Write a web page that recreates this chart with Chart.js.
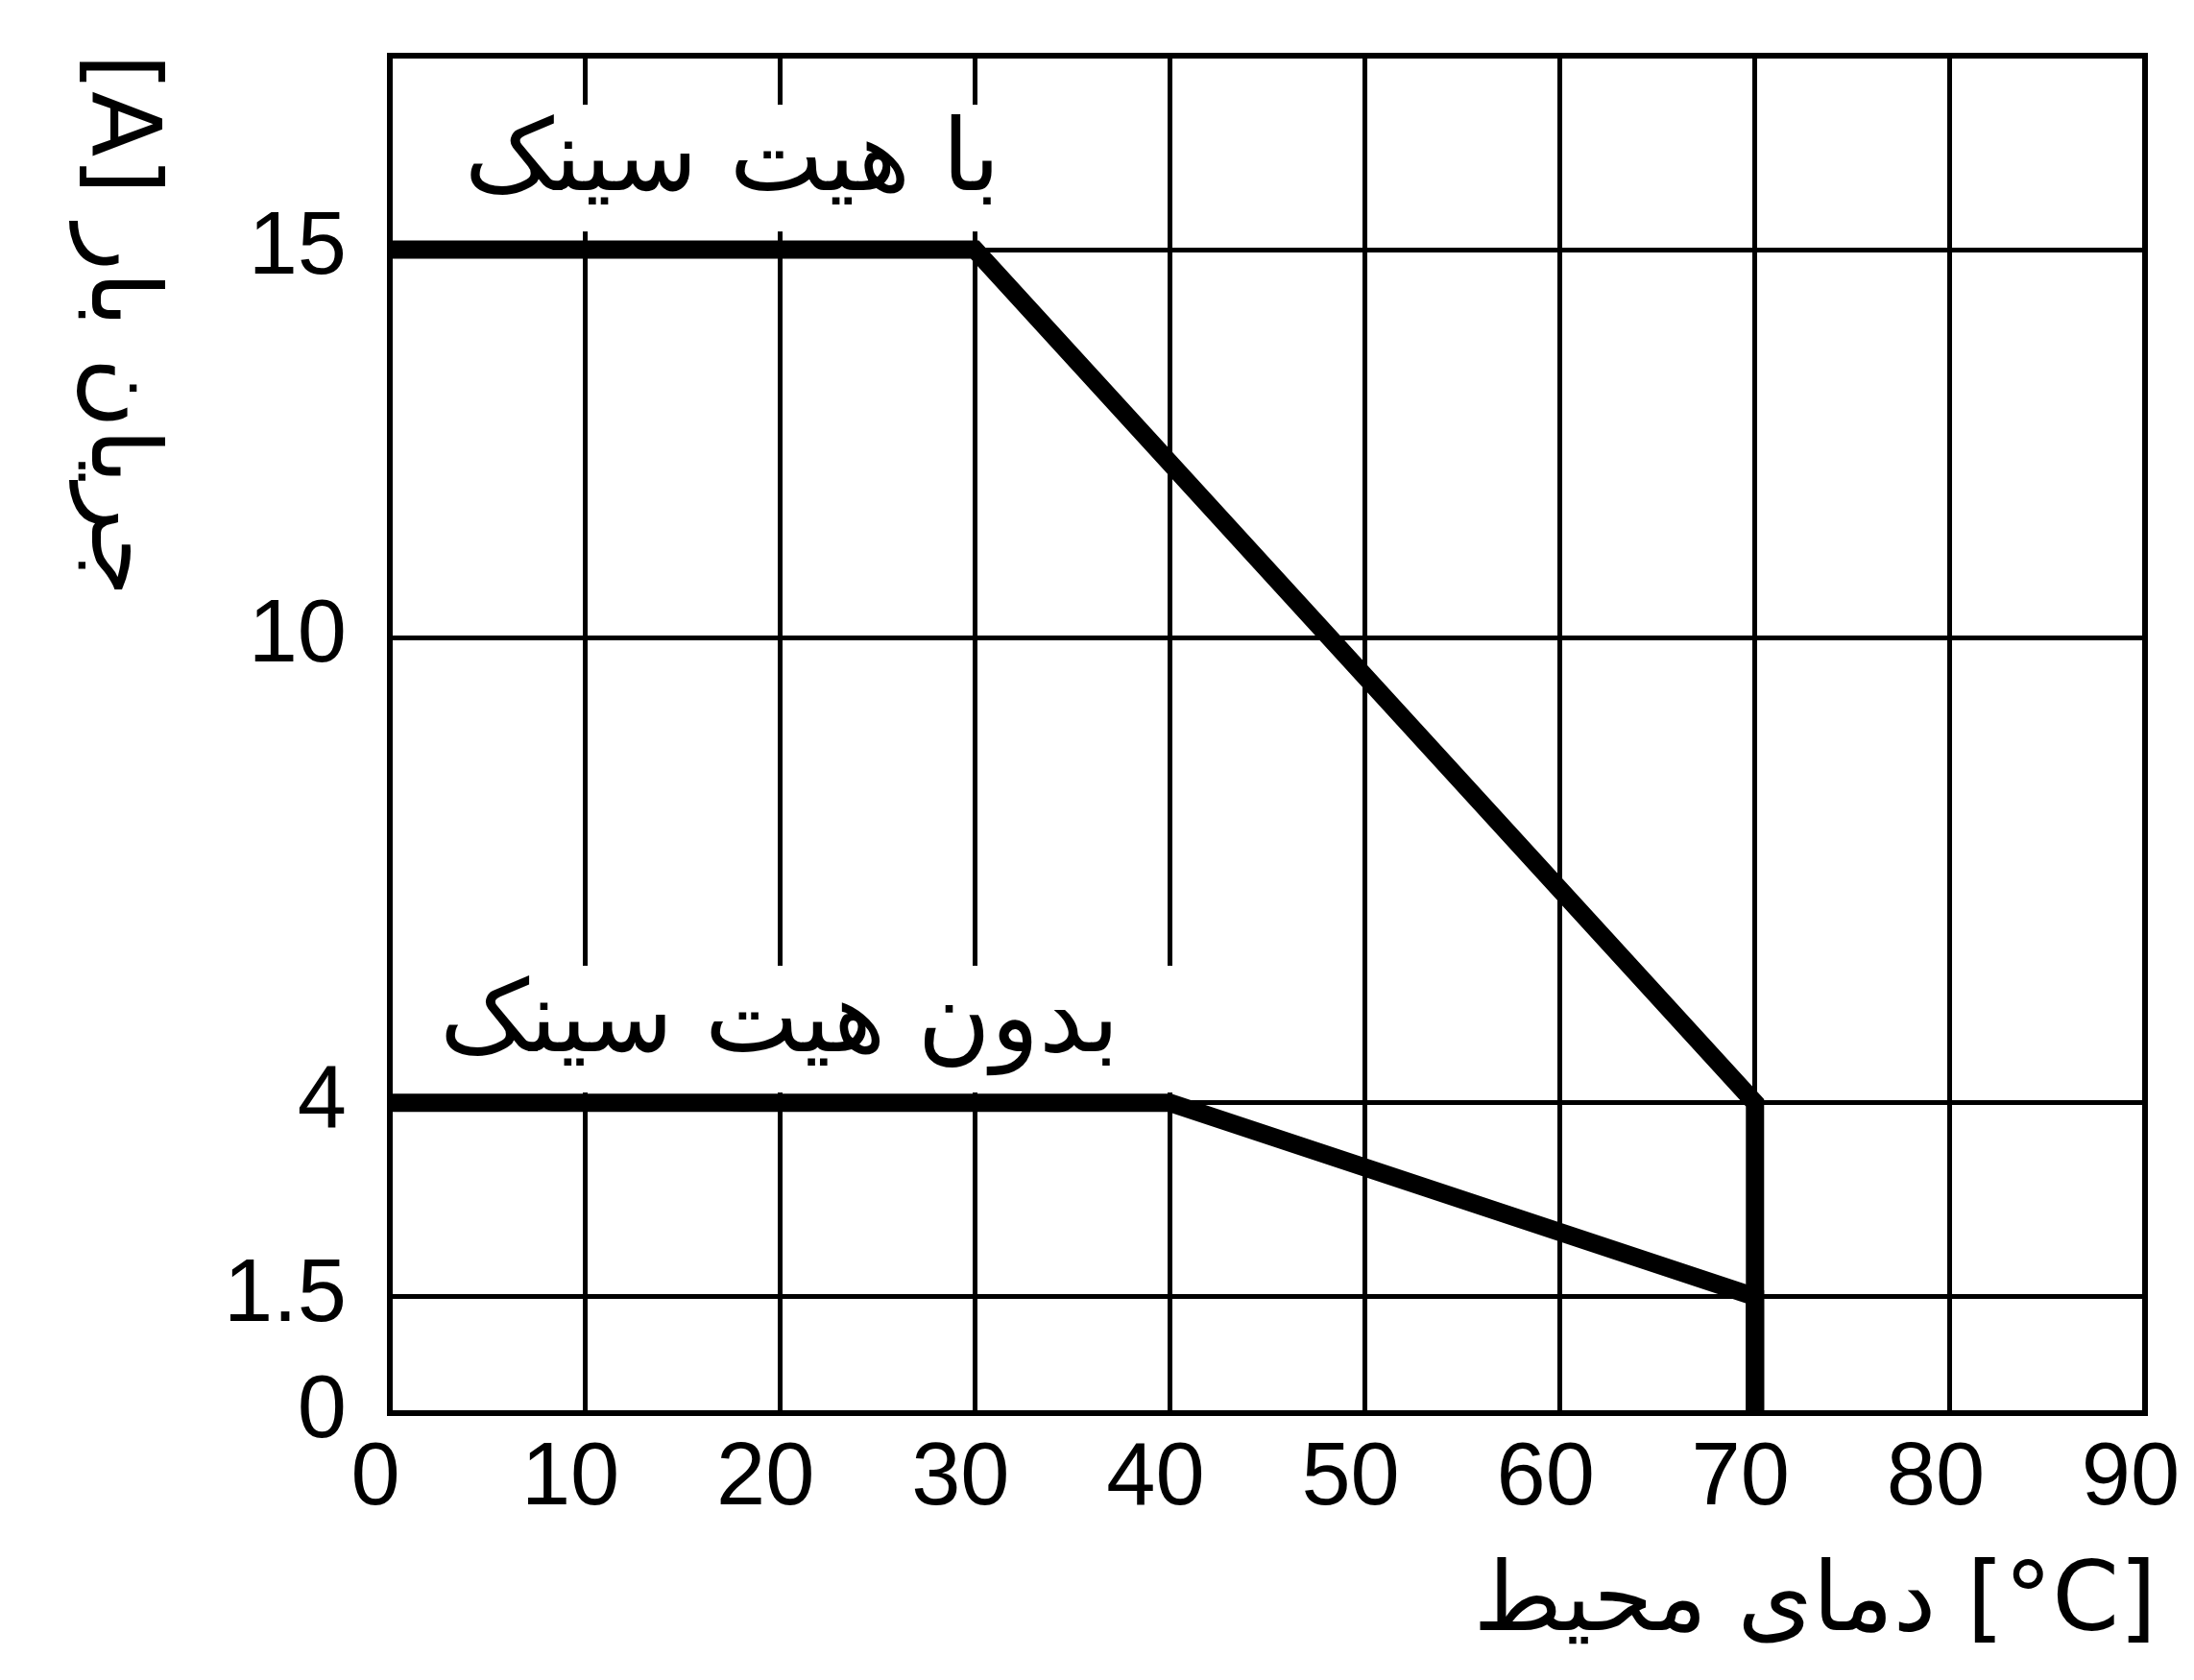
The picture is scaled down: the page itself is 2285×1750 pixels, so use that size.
<!DOCTYPE html>
<html>
  <head>
    <meta charset="utf-8">
    <title>Derating curve</title>
    <script src="https://cdn.jsdelivr.net/npm/chart.js@4.4.1/dist/chart.umd.min.js"></script>
    <style>
      html, body { margin: 0; padding: 0; background: #fff; }
    </style>
  </head>
  <body>
    <canvas id="canvas" width="2285" height="1750"></canvas>
    <script>
      // axis ticks
      const xTicks = [0, 10, 20, 30, 40, 50, 60, 70, 80, 90];
      const yTicks = [0, 1.5, 4, 10, 15];

      // curves: ambient temperature [°C] -> current [A]
      const withSinkTemp = [0, 30, 70, 70];
      const withSinkCurrent = [15, 15, 4, 0];
      const noSinkTemp = [0, 40, 70, 70];
      const noSinkCurrent = [4, 4, 1.5, 0];

      // texts
      const withSinkLabel = 'با هیت سینک';
      const noSinkLabel = 'بدون هیت سینک';
      const xTitle = 'دمای محیط [°C]';
      const yTitle = '[A] جریان بار';

      const toPoints = (xs, ys) => xs.map((v, i) => ({ x: v, y: ys[i] }));

      const persianFont = '"DejaVu Sans", sans-serif';
      const digitFont = '"Liberation Sans", Arial, sans-serif';

      // label placed with its right edge at (x, y) in data units, on a white patch
      function boxedLabel(ctx, chart, text, xv, yv, size, padRight) {
        const { x, y } = chart.scales;
        const px = x.getPixelForValue(xv);
        const py = y.getPixelForValue(yv);
        ctx.font = size + 'px ' + persianFont;
        ctx.textAlign = 'right';
        ctx.textBaseline = 'middle';
        const w = ctx.measureText(text).width;
        ctx.fillStyle = '#fff';
        ctx.fillRect(px - w - 20, py - 62, w + 20 + padRight, 132);
        ctx.fillStyle = '#000';
        ctx.fillText(text, px, py);
      }

      const decor = {
        id: 'decor',
        beforeDatasetsDraw(chart) {
          const { ctx, chartArea: a } = chart;
          ctx.save();
          ctx.strokeStyle = '#000';
          ctx.lineWidth = 6;
          ctx.strokeRect(a.left, a.top, a.right - a.left, a.bottom - a.top);
          boxedLabel(ctx, chart, withSinkLabel, 31.3, 16.1, 104, 22);
          boxedLabel(ctx, chart, noSinkLabel, 37.4, 5.0, 104, 70);
          ctx.restore();
        },
        afterDraw(chart) {
          const { ctx } = chart;
          ctx.save();
          ctx.fillStyle = '#000';
          // x title, right aligned under the axis
          ctx.font = '100px ' + persianFont;
          ctx.textAlign = 'right';
          ctx.textBaseline = 'middle';
          ctx.fillText(xTitle, 2246, 1672);
          // y title, turned clockwise, read from top
          ctx.translate(122, 56);
          ctx.rotate(Math.PI / 2);
          ctx.textAlign = 'left';
          ctx.fillText(yTitle, 0, 0);
          ctx.restore();
        }
      };

      const gridStyle = { color: '#000', lineWidth: 5, drawTicks: false };

      new Chart(document.getElementById('canvas').getContext('2d'), {
        type: 'line',
        data: {
          datasets: [
            {
              label: withSinkLabel,
              data: toPoints(withSinkTemp, withSinkCurrent),
              borderColor: '#000',
              borderWidth: 19,
              pointRadius: 0,
              borderJoinStyle: 'miter',
              tension: 0
            },
            {
              label: noSinkLabel,
              data: toPoints(noSinkTemp, noSinkCurrent),
              borderColor: '#000',
              borderWidth: 19,
              pointRadius: 0,
              borderJoinStyle: 'miter',
              tension: 0
            }
          ]
        },
        options: {
          responsive: false,
          animation: false,
          devicePixelRatio: 1,
          layout: { padding: { top: 58, right: 51, left: 0, bottom: 0 } },
          plugins: { legend: { display: false }, tooltip: { enabled: false } },
          scales: {
            x: {
              type: 'linear',
              min: 0,
              max: 90,
              afterBuildTicks: s => { s.ticks = xTicks.map(v => ({ value: v })); },
              afterFit: s => { s.height = 278; s.paddingLeft = 0; s.paddingRight = 0; },
              grid: gridStyle,
              border: { display: false },
              ticks: {
                color: '#000',
                font: { family: digitFont, size: 92 },
                padding: 14,
                labelOffset: -15,
                maxRotation: 0,
                autoSkip: false
              }
            },
            y: {
              type: 'linear',
              min: 0,
              max: 17.5,
              afterBuildTicks: s => { s.ticks = yTicks.map(v => ({ value: v })); },
              afterFit: s => { s.width = 406; s.paddingTop = 0; s.paddingBottom = 0; },
              grid: gridStyle,
              border: { display: false },
              ticks: {
                color: '#000',
                font: { family: digitFont, size: 92 },
                padding: 45,
                autoSkip: false
              }
            }
          }
        },
        plugins: [decor]
      });
    </script>
  </body>
</html>
